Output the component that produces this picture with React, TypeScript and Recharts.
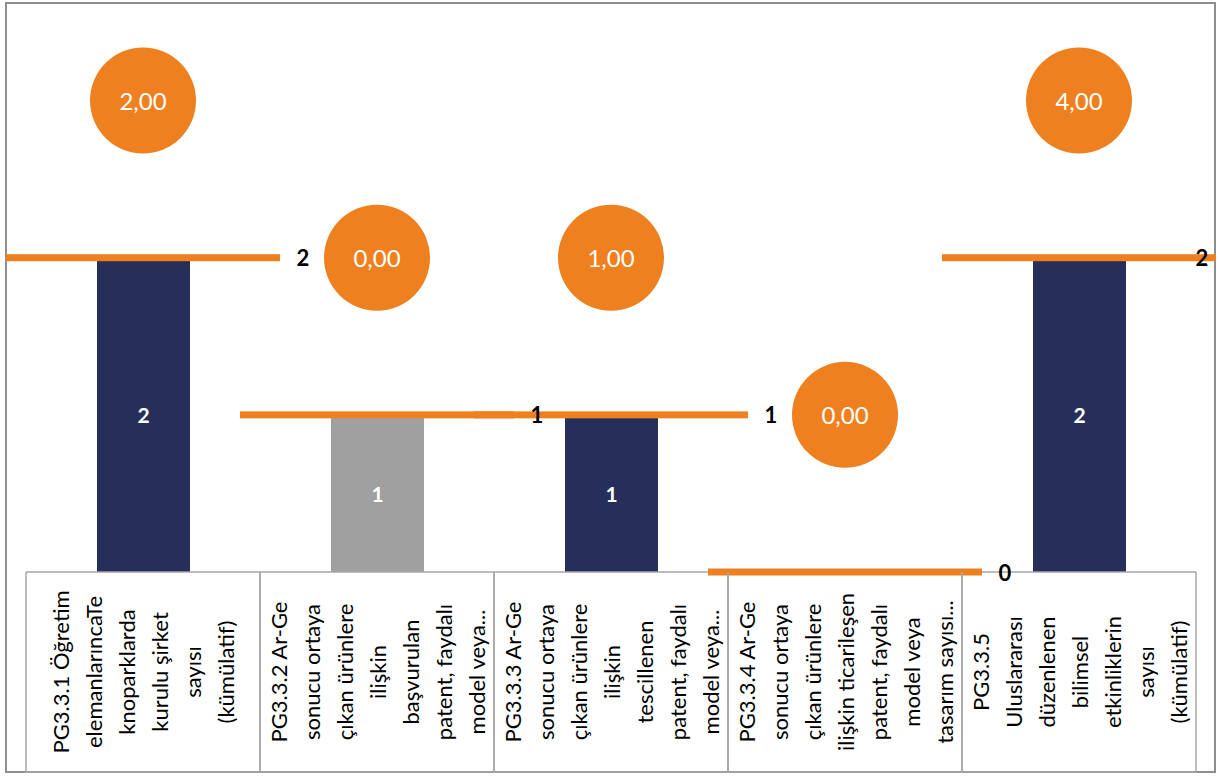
import React from "react";
import { ComposedChart, Bar, Scatter, XAxis, YAxis, LabelList, ReferenceLine } from "recharts";

const categories = [
  "PG3.3.1 Öğretim elemanlarıncaTeknoparklarda kurulu şirket sayısı (kümülatif)",
  "PG3.3.2 Ar-Ge sonucu ortaya çıkan ürünlere ilişkin başvurulan patent, faydalı model veya...",
  "PG3.3.3 Ar-Ge sonucu ortaya çıkan ürünlere ilişkin tescillenen patent, faydalı model veya...",
  "PG3.3.4 Ar-Ge sonucu ortaya çıkan ürünlere ilişkin ticarileşen patent, faydalı model veya tasarım sayısı...",
  "PG3.3.5 Uluslararası düzenlenen bilimsel etkinliklerin sayısı (kümülatif)",
];
const categoryLines = [
  ["PG3.3.1 Öğretim", "elemanlarıncaTe", "knoparklarda", "kurulu şirket", "sayısı", "(kümülatif)"],
  ["PG3.3.2 Ar-Ge", "sonucu ortaya", "çıkan ürünlere", "ilişkin", "başvurulan", "patent, faydalı", "model veya..."],
  ["PG3.3.3 Ar-Ge", "sonucu ortaya", "çıkan ürünlere", "ilişkin", "tescillenen", "patent, faydalı", "model veya..."],
  ["PG3.3.4 Ar-Ge", "sonucu ortaya", "çıkan ürünlere", "ilişkin ticarileşen", "patent, faydalı", "model veya", "tasarım sayısı..."],
  ["PG3.3.5", "Uluslararası", "düzenlenen", "bilimsel", "etkinliklerin", "sayısı", "(kümülatif)"],
];
const actualValues = [2, 0, 1, 0, 2];
const grayValues = [null, 1, null, null, null];
const targetValues = [2, 1, 1, 0, 2];
const circleValues = [3, 2, 2, 1, 3];
const circleLabels = ["2,00", "0,00", "1,00", "0,00", "4,00"];

const data = categories.map((c, i) => ({
  name: c,
  idx: i,
  actual: actualValues[i],
  gray: grayValues[i],
  target: targetValues[i],
  circle: circleValues[i],
  circleLabel: circleLabels[i],
}));

const NAVY = "#262F59";
const GRAY = "#A0A0A0";
const ORANGE = "#EF801F";
const LINE_GRAY = "#A6A6A6";
const FONT = "Lato, 'Open Sans', sans-serif";

const TableTick = (props: any) => {
  const { x, y, payload, width } = props;
  const half = width / (2 * categories.length);
  const idx = payload.index ?? categories.indexOf(payload.value);
  const lines = categoryLines[idx] || [];
  const n = lines.length;
  const cy = y + 100;
  const l = x - half;
  const r = x + half;
  return (
    <g>
      <path d={`M${l},${y} V${y + 200} H${r} V${y}`} fill="none" stroke={LINE_GRAY} strokeWidth={1.5} />
      {lines.map((t, i) => {
        const lx = x + (i - (n - 1) / 2) * 33;
        return (
          <text
            key={i}
            x={lx}
            y={cy}
            transform={`rotate(-90 ${lx} ${cy})`}
            textAnchor="middle"
            dominantBaseline="central"
            fontFamily={FONT}
            fontSize={22}
            fill="#000000"
          >
            {t}
          </text>
        );
      })}
    </g>
  );
};

const TargetShape = (props: any) => {
  const { cx, cy } = props;
  if (cx == null || cy == null) return null;
  return <rect x={cx - 137} y={cy - 3.5} width={274} height={7} fill={ORANGE} />;
};

const TargetLabelShape = (props: any) => {
  const { cx, cy, payload } = props;
  if (cx == null || cy == null) return null;
  const lx = Math.min(cx + 160, 1202);
  return (
    <text x={lx} y={cy} textAnchor="middle" dominantBaseline="central" fontFamily={FONT} fontWeight={700} fontSize={22} fill="#000">
      {String(payload.target)}
    </text>
  );
};

const CircleShape = (props: any) => {
  const { cx, cy, payload } = props;
  if (cx == null || cy == null) return null;
  return (
    <g>
      <circle cx={cx} cy={cy} r={53} fill={ORANGE} />
      <text x={cx} y={cy} textAnchor="middle" dominantBaseline="central" fontFamily={FONT} fontSize={24} fill="#FFFFFF">
        {payload.circleLabel}
      </text>
    </g>
  );
};

const barLabel = (props: any) => {
  const { x, y, width, height, value } = props;
  if (value == null) return null;
  return (
    <text x={x + width / 2} y={y + height / 2} textAnchor="middle" dominantBaseline="central" fontFamily={FONT} fontWeight={700} fontSize={21} fill="#FFFFFF">
      {String(value)}
    </text>
  );
};

export default function App() {
  return (
    <div style={{ position: "absolute", left: 0, top: 0, width: 1219, height: 776, background: "#fff" }}>
      <div
        style={{
          position: "absolute",
          left: 5,
          top: 2,
          width: 1211,
          height: 771,
          border: "2px solid #8E8E8E",
          boxSizing: "border-box",
        }}
      />
      <div style={{ position: "absolute", left: 0, top: 0 }}>
        <ComposedChart width={1219} height={776} data={data} margin={{ top: 22, right: 23, bottom: 4, left: 26 }}>
          <XAxis xAxisId="b" dataKey="name" hide />
          <XAxis
            dataKey="name"
            height={200}
            tickSize={0}
            tickMargin={0}
            axisLine={false}
            tickLine={false}
            interval={0}
            tick={<TableTick />}
          />
          <YAxis domain={[0, 3.5]} hide />
          <ReferenceLine y={0} stroke={LINE_GRAY} strokeWidth={1.5} />
          <Bar xAxisId="b" dataKey="gray" fill={GRAY} barSize={93} isAnimationActive={false}>
            <LabelList dataKey="gray" content={barLabel} />
          </Bar>
          <Bar dataKey="actual" fill={NAVY} barSize={93} isAnimationActive={false}>
            <LabelList dataKey="actual" content={barLabel} />
          </Bar>
          <Scatter dataKey="target" fill={ORANGE} shape={<TargetShape />} isAnimationActive={false} />
          <Scatter dataKey="target" fill={ORANGE} shape={<TargetLabelShape />} isAnimationActive={false} />
          <Scatter dataKey="circle" fill={ORANGE} shape={<CircleShape />} isAnimationActive={false} />
        </ComposedChart>
      </div>
    </div>
  );
}
